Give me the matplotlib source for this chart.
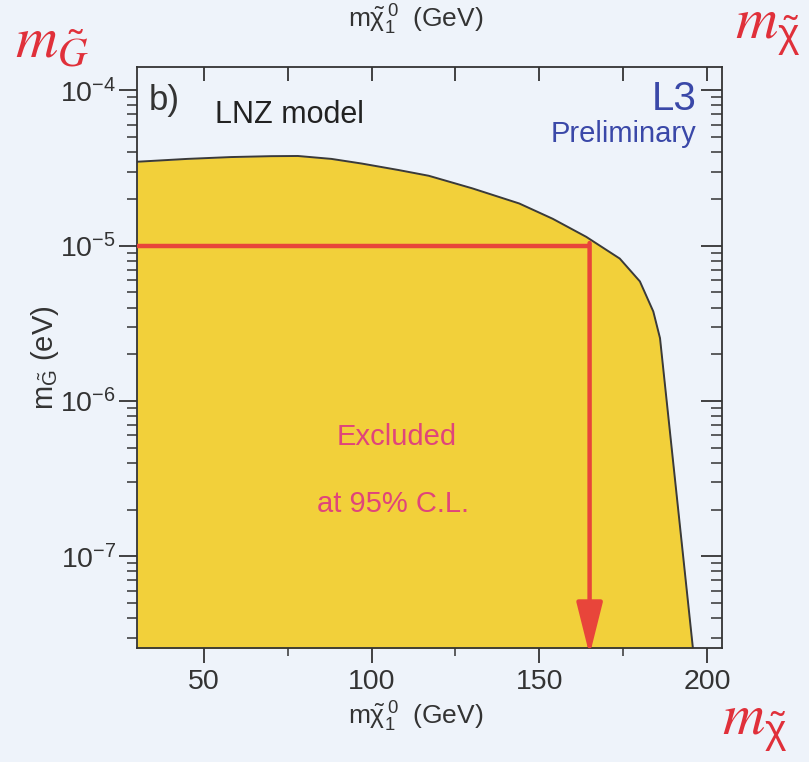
import matplotlib
matplotlib.use("Agg")
import matplotlib.pyplot as plt
from matplotlib.ticker import FixedLocator, NullFormatter

plt.rcParams['font.family'] = ['Liberation Sans', 'DejaVu Sans']
plt.rcParams['mathtext.default'] = 'regular'

# excluded region boundary: neutralino mass (GeV) vs gravitino mass (eV)
m_chi = [30, 45, 58, 70, 78, 88, 97, 108, 117, 130, 144, 154, 164, 174, 180, 184, 186, 196.3]
m_grav = [3.47e-5, 3.62e-5, 3.72e-5, 3.77e-5, 3.78e-5, 3.62e-5, 3.38e-5, 3.07e-5, 2.82e-5,
          2.34e-5, 1.87e-5, 1.49e-5, 1.14e-5, 8.26e-6, 5.89e-6, 3.77e-6, 2.54e-6, 2.04e-8]

# 95% C.L. limit marked by the red line
lim_chi = 165
lim_grav = 1e-5

x_major = [50, 100, 150, 200]
x_minor = [75, 125, 175]
y_major = [1e-4, 1e-5, 1e-6, 1e-7]
y_labels = [r'$10^{-4}$', r'$10^{-5}$', r'$10^{-6}$', r'$10^{-7}$']

xlo, xhi = 30, 204.5
ylo, yhi = 10 ** -7.59, 10 ** -3.85

bg = '#eef3fa'
yellow = '#f2d03a'
red = '#e8453a'
pink = '#e0457a'
blue = '#3a48a8'

fig = plt.figure(figsize=(8.09, 7.62), dpi=100, facecolor=bg)
ax = fig.add_axes([0.1693, 0.1496, 0.7232, 0.7624], facecolor=bg)
ax.set_yscale('log')
ax.set_xlim(xlo, xhi)
ax.set_ylim(ylo, yhi)

ax.fill_between(m_chi, 1e-9, m_grav, color=yellow, lw=0, zorder=1)
ax.plot(m_chi, m_grav, color='#3a3a3a', lw=1.4, zorder=2)

# limit line and arrow
ax.plot([xlo, lim_chi], [lim_grav, lim_grav], color=red, lw=3.2,
        solid_capstyle='butt', zorder=3)
ax.annotate('', xy=(lim_chi, ylo * 0.9), xytext=(lim_chi, lim_grav * 1.04),
            annotation_clip=False,
            arrowprops=dict(arrowstyle='-|>,head_length=1.6,head_width=0.4',
                            color=red, lw=3.2, shrinkA=0, shrinkB=0,
                            mutation_scale=20), zorder=3)

for s in ax.spines.values():
    s.set_linewidth(1.3)
    s.set_color('#333333')

ax.xaxis.set_major_locator(FixedLocator(x_major))
ax.xaxis.set_minor_locator(FixedLocator(x_minor))
ax.yaxis.set_major_locator(FixedLocator(y_major))
ax.set_yticklabels(y_labels)
ax.yaxis.set_minor_formatter(NullFormatter())
ax.tick_params(which='both', direction='out', colors='#333333', labelsize=20.5,
               labelcolor='#333333')
ax.tick_params(axis='y', which='major', length=13, width=1.3, pad=2)
ax.tick_params(axis='y', which='minor', length=7, width=1.1)
ax.tick_params(axis='x', which='major', length=11, width=1.3, pad=4)
ax.tick_params(axis='x', which='minor', length=6, width=1.1)

# inward ticks on the right and top edges
sec_y = ax.secondary_yaxis('right')
sec_y.yaxis.set_major_locator(FixedLocator(y_major))
sec_y.tick_params(which='both', direction='in', labelright=False, colors='#333333')
sec_y.tick_params(which='major', length=15, width=1.3)
sec_y.tick_params(which='minor', length=8, width=1.1)
sec_y.spines['right'].set_visible(False)

sec_x = ax.secondary_xaxis('top')
sec_x.xaxis.set_major_locator(FixedLocator(x_major + x_minor))
sec_x.tick_params(which='both', direction='in', labeltop=False, colors='#333333',
                  length=10, width=1.3)
sec_x.spines['top'].set_visible(False)

ax.text(0.020, 0.943, 'b)', transform=ax.transAxes, fontsize=25,
        color='#333333', va='center', ha='left')
ax.text(0.133, 0.917, 'LNZ model', transform=ax.transAxes, fontsize=22,
        color='#222222', va='center', ha='left')
ax.text(0.956, 0.945, 'L3', transform=ax.transAxes, fontsize=29,
        color=blue, va='center', ha='right')
ax.text(0.956, 0.885, 'Preliminary', transform=ax.transAxes, fontsize=21,
        color=blue, va='center', ha='right')
ax.text(0.444, 0.363, 'Excluded', transform=ax.transAxes, fontsize=21,
        color=pink, va='center', ha='center')
ax.text(0.438, 0.248, 'at 95% C.L.', transform=ax.transAxes, fontsize=21,
        color=pink, va='center', ha='center')

xlab = r'm$\tilde{\chi}^{\,0}_{1}$  (GeV)'
fig.text(416 / 809, 1 - 717 / 762, xlab, fontsize=19, color='#333333',
         ha='center', va='center')
fig.text(416 / 809, 1 - 20 / 762, xlab, fontsize=19, color='#333333',
         ha='center', va='center')
fig.text(45 / 809, 1 - 358 / 762, r'm$_{\tilde{G}}$ (eV)', fontsize=21,
         color='#333333', ha='center', va='center', rotation=90)

# large italic symbol labels around the frame
sym_kw = dict(fontsize=42, color='#e0303a', ha='center', va='center',
              math_fontfamily='stix')
fig.text(52 / 809, 1 - 42 / 762, r'$\mathit{m}_{\tilde{\mathit{G}}}$', **sym_kw)
fig.text(768 / 809, 1 - 30 / 762, r'$\mathit{m}_{\tilde{\chi}}$', **sym_kw)
fig.text(755 / 809, 1 - 726 / 762, r'$\mathit{m}_{\tilde{\chi}}$', **sym_kw)

fig.savefig('out.png', dpi=100, facecolor=bg)
